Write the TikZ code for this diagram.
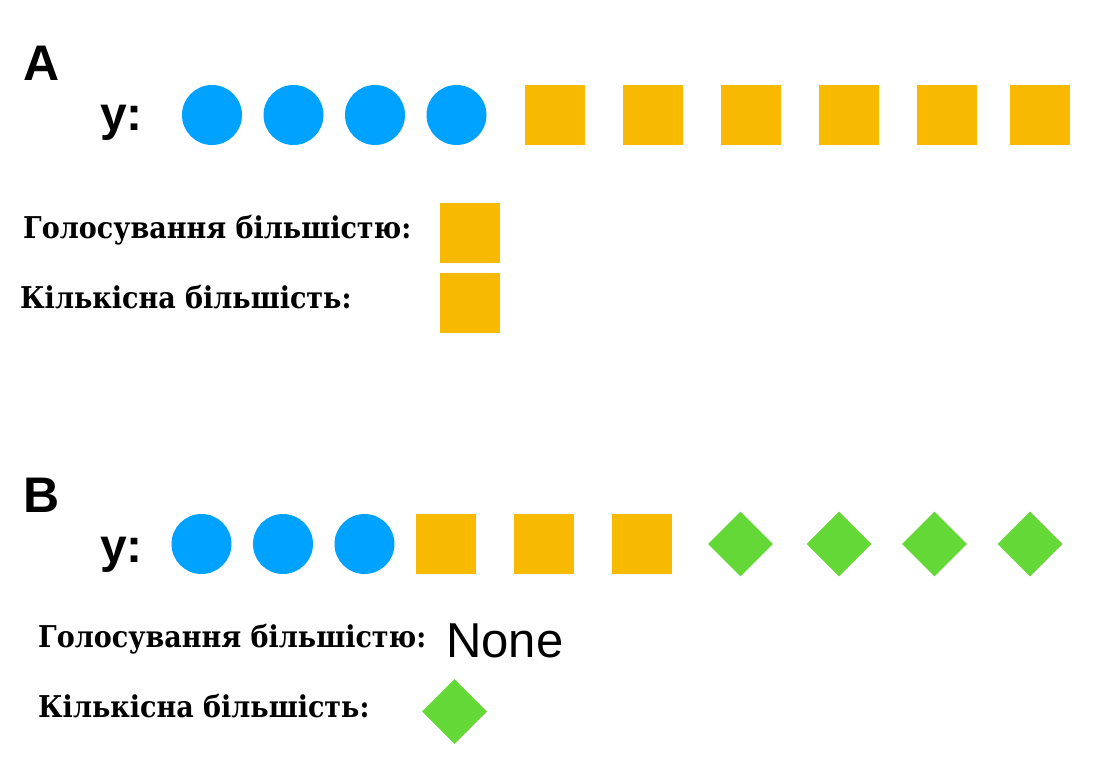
\documentclass[tikz,border=0pt]{standalone}
\usepackage{fontspec}
\setmainfont{Liberation Sans}
\newfontfamily\uafont{DejaVu Serif Condensed}
\usetikzlibrary{shapes.geometric}
\definecolor{dotblue}{HTML}{00A2FF}
\definecolor{boxorange}{HTML}{F7BA00}
\definecolor{gemgreen}{HTML}{63D836}

\begin{document}
\begin{tikzpicture}[x=1pt, y=-1pt, dot/.style={circle, fill=dotblue, inner sep=0, minimum size=60pt}, box/.style={rectangle, fill=boxorange, inner sep=0, minimum size=60pt}, gem/.style={diamond, fill=gemgreen, inner sep=0, aspect=1, minimum size=65pt}, tag/.style={anchor=base west, inner sep=0, font=\fontsize{50}{50}\selectfont\bfseries}, ylab/.style={anchor=base west, inner sep=0, font=\fontsize{48}{48}\selectfont\bfseries}, rowlab/.style={anchor=base west, inner sep=0, font=\uafont\fontsize{30}{30}\selectfont\bfseries}]
\useasboundingbox[fill=white] (0,0) rectangle (1105,776);
% part A
\node[tag] (ta) at (23,81) {A};
\node[ylab] (ya) at (100,130) {y:};
\node[dot] (a0) at (212,115) {};
\node[dot] (a1) at (293.5,115) {};
\node[dot] (a2) at (375,115) {};
\node[dot] (a3) at (456.5,115) {};
\node[box] (a4) at (555,115) {};
\node[box] (a5) at (653,115) {};
\node[box] (a6) at (751,115) {};
\node[box] (a7) at (849,115) {};
\node[box] (a8) at (947,115) {};
\node[box] (a9) at (1040,115) {};
\node[rowlab] (va) at (23,238) {Голосування більшістю:};
\node[box] (vra) at (469.5,232.5) {};
\node[rowlab] (ca) at (20,308) {Кількісна більшість:};
\node[box] (cra) at (469.5,302.5) {};
% part B
\node[tag] (tb) at (23,512) {B};
\node[ylab] (yb) at (100,562) {y:};
\node[dot] (b0) at (201.5,544) {};
\node[dot] (b1) at (283,544) {};
\node[dot] (b2) at (364.5,544) {};
\node[box] (b3) at (446,544) {};
\node[box] (b4) at (544,544) {};
\node[box] (b5) at (642,544) {};
\node[gem] (b6) at (740.5,544) {};
\node[gem] (b7) at (839,544) {};
\node[gem] (b8) at (934.5,544) {};
\node[gem] (b9) at (1030,544) {};
\node[rowlab] (vb) at (38,647) {Голосування більшістю:};
\node[anchor=base west, inner sep=0, font=\fontsize{49}{49}\selectfont] (vrb) at (446,657) {None};
\node[rowlab] (cb) at (38,717) {Кількісна більшість:};
\node[gem] (crb) at (454.5,711.5) {};
\end{tikzpicture}
\end{document}
